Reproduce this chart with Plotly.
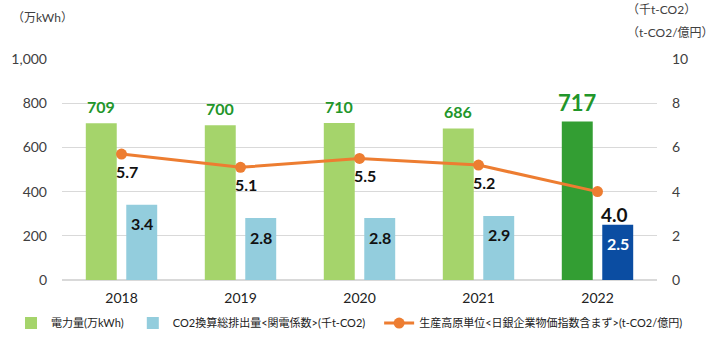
import plotly.graph_objects as go

years = ["2018", "2019", "2020", "2021", "2022"]
power = [709, 700, 710, 686, 717]          # 万kWh (left axis)
co2 = [3.4, 2.8, 2.8, 2.9, 2.5]            # 千t-CO2 (right axis)
intensity = [5.7, 5.1, 5.5, 5.2, 4.0]      # t-CO2/億円 (right axis)

power_colors = ["#A5D46B", "#A5D46B", "#A5D46B", "#A5D46B", "#339E33"]
co2_colors = ["#93CDDD", "#93CDDD", "#93CDDD", "#93CDDD", "#0B4DA2"]

FONT = "Lato, 'Noto Sans CJK JP', sans-serif"
TICK = "#404040"

fig = go.Figure()
fig.add_trace(go.Bar(
    x=years, y=power, name="電力量(万kWh)",
    marker=dict(color=power_colors, line=dict(width=0)),
    width=0.26, offset=-0.30, yaxis="y", legend="legend",
))
fig.add_trace(go.Bar(
    x=years, y=co2, name="CO2換算総排出量<関電係数>(千t-CO2)",
    marker=dict(color=co2_colors, line=dict(width=0)),
    width=0.26, offset=0.04, yaxis="y2", legend="legend2",
))
fig.add_trace(go.Scatter(
    x=years, y=intensity, name="生産高原単位<日銀企業物価指数含まず>(t-CO2/億円)",
    mode="lines+markers", yaxis="y2", legend="legend3",
    line=dict(color="#ED7D31", width=3),
    marker=dict(color="#ED7D31", size=11),
))

ann = []
last = len(years) - 1
for i, v in enumerate(power):
    big = i == last
    ann.append(dict(x=i - 0.17, y=v, xref="x", yref="y", text=f"<b>{v}</b>", showarrow=False,
                    yshift=19 if big else 17, yanchor="middle",
                    font=dict(family=FONT, size=22 if big else 16, color="#22962A")))
for i, v in enumerate(co2):
    big = i == last
    ann.append(dict(x=i + 0.17, y=v, xref="x", yref="y2", text=f"<b>{v:.1f}</b>", showarrow=False,
                    yshift=-19, yanchor="middle",
                    font=dict(family=FONT, size=16, color="white" if big else "#111111")))
for i, v in enumerate(intensity):
    big = i == last
    ann.append(dict(x=i, y=v, xref="x", yref="y2", text=f"<b>{v:.1f}</b>", showarrow=False,
                    xshift=17 if big else 5, yshift=-23 if big else -17, yanchor="middle",
                    font=dict(family=FONT, size=19 if big else 16, color="#111111")))

ann.append(dict(x=-0.087, y=1.186, xref="paper", yref="paper", text="（万kWh）", showarrow=False,
                xanchor="left", yanchor="middle", font=dict(family=FONT, size=12, color=TICK)))
ann.append(dict(x=0.946, y=1.222, xref="paper", yref="paper", text="（千t-CO2）", showarrow=False,
                xanchor="left", yanchor="middle", font=dict(family=FONT, size=12, color=TICK)))
ann.append(dict(x=0.946, y=1.122, xref="paper", yref="paper", text="（t-CO2/億円）", showarrow=False,
                xanchor="left", yanchor="middle", font=dict(family=FONT, size=12, color=TICK)))

leg_common = dict(orientation="h", y=-0.195, yanchor="middle", xanchor="left",
                  font=dict(family=FONT, size=11, color="#222222"),
                  itemwidth=30, bgcolor="rgba(0,0,0,0)")

fig.update_layout(
    width=714, height=339,
    margin=dict(l=62, r=57, t=59, b=59, autoexpand=False),
    paper_bgcolor="white", plot_bgcolor="white",
    font=dict(family=FONT, size=13, color=TICK),
    barmode="overlay",
    showlegend=True,
    legend=dict(x=-0.0857, **leg_common),
    legend2=dict(x=0.119, **leg_common),
    legend3=dict(x=0.533, **leg_common),
    xaxis=dict(type="category", range=[-0.5, 4.5], showgrid=False, showline=False, ticks="",
               tickfont=dict(family=FONT, size=14, color="#222222"), ticklabelstandoff=8),
    yaxis=dict(range=[0, 1000], dtick=200, tickformat=",", showgrid=True,
               gridcolor="#D9D9D9", gridwidth=1, zeroline=True, zerolinecolor="#D9D9D9",
               showline=False, ticks="", ticklabelstandoff=14,
               tickfont=dict(family=FONT, size=14, color=TICK)),
    yaxis2=dict(range=[0, 10], dtick=2, overlaying="y", side="right", showgrid=False,
                zeroline=False, showline=False, ticks="", ticklabelstandoff=14,
                tickfont=dict(family=FONT, size=14, color=TICK)),
    annotations=ann,
)

fig.write_html("out.html")
